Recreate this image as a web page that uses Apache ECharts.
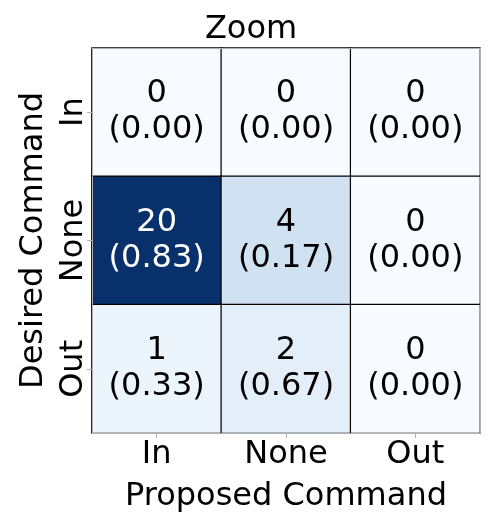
<!DOCTYPE html>
<html>
<head>
<meta charset="utf-8">
<script src="https://cdn.jsdelivr.net/npm/echarts@6/dist/echarts.min.js"></script>
<style>html,body{margin:0;padding:0;background:#fff}#c{width:502px;height:525px}</style>
</head>
<body>
<div id="c"></div>
<script>
var title = 'Zoom';
var proposedCats = ['In', 'None', 'Out'];
var desiredCats = ['In', 'None', 'Out'];
var xName = 'Proposed Command';
var yName = 'Desired Command';
// counts[row = desired][col = proposed]
var counts = [
  [0, 0, 0],
  [20, 4, 0],
  [1, 2, 0]
];
var proportions = [
  [0.00, 0.00, 0.00],
  [0.83, 0.17, 0.00],
  [0.33, 0.67, 0.00]
];
var blues = ['#f7fbff', '#deebf7', '#c6dbef', '#9ecae1', '#6baed6', '#4292c6', '#2171b5', '#08519c', '#08306b'];

var FONT = 'DejaVu Sans';
var FS = 32;
var data = [];
for (var r = 0; r < desiredCats.length; r++) {
  for (var c = 0; c < proposedCats.length; c++) {
    var v = counts[r][c];
    data.push({
      value: [c, r, v],
      label: { color: v > 10 ? '#ffffff' : '#000000' }
    });
  }
}

var chart = echarts.init(document.getElementById('c'), null, { renderer: 'canvas' });
chart.setOption({
  animation: false,
  backgroundColor: '#ffffff',
  textStyle: { fontFamily: FONT },
  title: {
    text: title,
    left: 'center',
    top: 9,
    textStyle: { fontFamily: FONT, fontSize: FS, fontWeight: 'normal', color: '#000' }
  },
  grid: { left: 92, right: 22, top: 48, bottom: 92, containLabel: false },
  xAxis: [{
    type: 'category',
    data: proposedCats,
    position: 'bottom',
    z: 10,
    name: xName,
    nameLocation: 'middle',
    nameGap: 48,
    nameTextStyle: { fontFamily: FONT, fontSize: FS, color: '#000' },
    axisLine: { show: true, lineStyle: { color: '#b0b0b0', width: 1 } },
    axisTick: { show: true, alignWithLabel: true, length: 5, lineStyle: { color: '#b0b0b0' } },
    axisLabel: { fontFamily: FONT, fontSize: FS, color: '#000', margin: 6 },
    splitLine: { show: false }
  }, {
    type: 'category',
    data: proposedCats,
    position: 'top',
    z: 10,
    axisLine: { show: true, lineStyle: { color: '#b0b0b0', width: 1 } },
    axisTick: { show: false },
    axisLabel: { show: false },
    splitLine: { show: false }
  }],
  yAxis: [{
    type: 'category',
    data: desiredCats,
    inverse: true,
    position: 'left',
    z: 10,
    name: yName,
    nameLocation: 'middle',
    nameRotate: 90,
    nameGap: 35,
    nameTextStyle: { fontFamily: FONT, fontSize: FS, color: '#000' },
    axisLine: { show: true, lineStyle: { color: '#b0b0b0', width: 1 } },
    axisTick: { show: true, alignWithLabel: true, length: 5, lineStyle: { color: '#b0b0b0' } },
    axisLabel: { fontFamily: FONT, fontSize: FS, color: '#000', rotate: 90, margin: 2 },
    splitLine: { show: false }
  }, {
    type: 'category',
    data: desiredCats,
    inverse: true,
    position: 'right',
    z: 10,
    axisLine: { show: true, lineStyle: { color: '#b0b0b0', width: 1 } },
    axisTick: { show: false },
    axisLabel: { show: false },
    splitLine: { show: false }
  }],
  visualMap: {
    show: false,
    type: 'continuous',
    min: 0,
    max: 20,
    dimension: 2,
    seriesIndex: 0,
    inRange: { color: blues }
  },
  series: [{
    type: 'heatmap',
    xAxisIndex: 0,
    yAxisIndex: 0,
    data: data,
    itemStyle: { borderColor: '#000', borderWidth: 1.2 },
    label: {
      show: true,
      fontFamily: FONT,
      fontSize: FS,
      lineHeight: 36,
      formatter: function (p) {
        var c = p.value[0], r = p.value[1];
        return p.value[2] + '\n(' + proportions[r][c].toFixed(2) + ')';
      }
    },
    emphasis: { disabled: true }
  }]
});
</script>
</body>
</html>
